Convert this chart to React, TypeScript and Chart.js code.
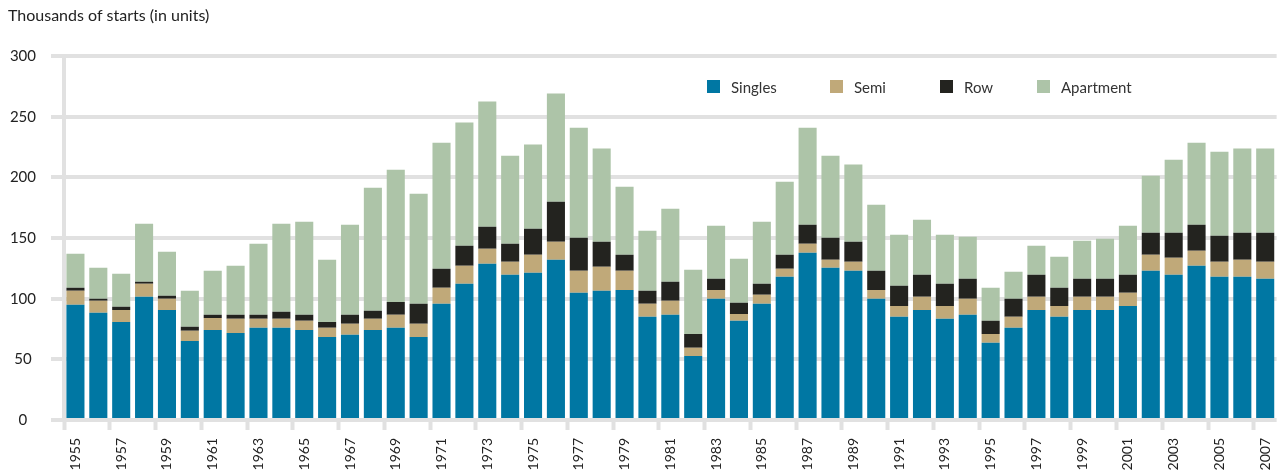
import React, { useEffect, useRef } from "react";
import { Chart, registerables } from "chart.js";

Chart.register(...registerables);

const years: string[] = [
  "1955","1956","1957","1958","1959","1960","1961","1962","1963","1964",
  "1965","1966","1967","1968","1969","1970","1971","1972","1973","1974",
  "1975","1976","1977","1978","1979","1980","1981","1982","1983","1984",
  "1985","1986","1987","1988","1989","1990","1991","1992","1993","1994",
  "1995","1996","1997","1998","1999","2000","2001","2002","2003","2004",
  "2005","2006","2007",
];

const singles: number[] = [
  95.0, 88.4, 80.9, 101.6, 90.8, 65.2, 74.3, 71.8, 76.0, 76.0,
  74.3, 68.5, 70.2, 74.3, 76.0, 68.5, 95.8, 112.3, 128.8, 119.7,
  121.4, 132.1, 104.9, 106.5, 107.3, 85.1, 86.7, 52.8, 99.9, 81.8,
  95.8, 118.1, 137.9, 125.5, 123.0, 99.9, 85.1, 90.8, 83.4, 86.7,
  63.6, 76.0, 90.8, 85.1, 90.8, 90.8, 94.1, 123.0, 119.7, 127.2,
  118.1, 118.1, 116.4,
];

const semi: number[] = [
  11.5, 9.9, 9.9, 10.7, 9.1, 8.3, 9.9, 11.6, 7.4, 7.4,
  7.5, 7.5, 9.1, 9.1, 10.7, 10.8, 13.2, 14.9, 12.4, 10.8,
  14.9, 14.9, 18.1, 19.8, 15.7, 10.7, 11.6, 6.7, 7.4, 5.7,
  7.4, 6.6, 7.4, 6.6, 7.5, 7.4, 9.0, 10.8, 10.7, 13.2,
  7.4, 9.1, 10.8, 9.0, 10.8, 10.8, 10.8, 13.3, 14.1, 12.4,
  12.4, 14.0, 14.1,
];

const row: number[] = [
  2.5, 1.6, 2.5, 1.7, 2.5, 3.3, 2.5, 3.3, 3.3, 5.8,
  4.9, 4.9, 7.4, 6.6, 10.7, 16.5, 15.7, 16.5, 18.2, 14.8,
  21.4, 33.0, 27.3, 20.7, 13.3, 10.7, 15.7, 11.5, 9.1, 9.1,
  9.1, 11.6, 15.7, 18.2, 16.5, 15.7, 16.6, 18.1, 18.2, 16.5,
  10.8, 14.8, 18.1, 14.9, 14.8, 14.8, 14.8, 18.1, 20.6, 21.4,
  21.4, 22.3, 23.9,
];

const apartment: number[] = [
  28.1, 25.6, 27.3, 47.9, 36.3, 29.7, 36.3, 40.5, 58.6, 72.7,
  76.8, 51.2, 74.3, 101.6, 109.0, 90.8, 104.0, 101.6, 103.2, 72.7,
  69.4, 89.2, 90.8, 76.8, 56.1, 49.6, 60.2, 52.9, 43.8, 36.3,
  51.2, 60.2, 80.1, 67.7, 63.6, 54.5, 42.1, 45.5, 40.5, 34.7,
  27.2, 22.3, 24.0, 25.6, 31.4, 33.1, 40.5, 47.1, 60.3, 67.7,
  69.4, 69.4, 69.4,
];

const seriesLabels: string[] = ["Singles", "Semi", "Row", "Apartment"];
const seriesColors: string[] = ["#0077A3", "#C0A979", "#23231F", "#ADC4A8"];
const yTicks: number[] = [0, 50, 100, 150, 200, 250, 300];

const FONT = "Lato, 'Open Sans', sans-serif";
const GRID = "#e1e1e1";

const insideLegend = {
  id: "insideLegend",
  afterDraw(chart: any) {
    const ctx = chart.ctx;
    const xs = [707, 830, 940, 1037];
    ctx.save();
    ctx.font = `15px ${FONT}`;
    ctx.textBaseline = "middle";
    ctx.textAlign = "left";
    chart.data.datasets.forEach((ds: any, i: number) => {
      ctx.fillStyle = ds.backgroundColor;
      ctx.fillRect(xs[i], 80, 13, 13);
      ctx.fillStyle = "#333333";
      ctx.fillText(ds.label, xs[i] + 24, 88);
    });
    ctx.restore();
  },
};

export default function App() {
  const canvasRef = useRef<HTMLCanvasElement | null>(null);

  useEffect(() => {
    document.body.style.margin = "0";
    document.body.style.overflow = "hidden";
    const canvas = canvasRef.current;
    if (!canvas) return;
    const data = [singles, semi, row, apartment];
    const chart = new Chart(canvas, {
      type: "bar",
      data: {
        labels: years,
        datasets: data.map((vals, i) => ({
          label: seriesLabels[i],
          data: vals,
          backgroundColor: seriesColors[i],
          borderWidth: 0,
          barPercentage: 0.79,
          categoryPercentage: 1,
        })),
      },
      options: {
        responsive: false,
        animation: false,
        devicePixelRatio: 1,
        layout: { padding: { left: 8, right: 0, top: 0, bottom: 0 } },
        plugins: {
          legend: { display: false },
          tooltip: { enabled: false },
          title: {
            display: true,
            text: "Thousands of starts (in units)",
            align: "start",
            color: "#222222",
            font: { family: FONT, size: 16, weight: "normal" },
            padding: { top: 6, bottom: 31 },
          },
        },
        scales: {
          x: {
            stacked: true,
            offset: true,
            border: { display: false },
            grid: {
              display: true,
              offset: true,
              drawOnChartArea: false,
              drawTicks: true,
              tickLength: 10,
              tickWidth: 4,
              tickColor: (c: any) => (c.index % 2 === 0 && c.index < years.length ? GRID : "rgba(0,0,0,0)"),
            },
            ticks: {
              autoSkip: false,
              maxRotation: 90,
              minRotation: 90,
              padding: 8,
              color: "#222222",
              font: { family: FONT, size: 14 },
              callback: (_v: any, i: number) => (i % 2 === 0 ? years[i] : ""),
            },
            afterFit: (s: any) => {
              s.height = 52;
            },
          },
          y: {
            stacked: true,
            min: 0,
            max: 300,
            afterBuildTicks: (s: any) => {
              s.ticks = yTicks.map((v) => ({ value: v }));
            },
            border: { display: true, width: 4, color: GRID },
            grid: {
              color: GRID,
              lineWidth: 4,
              drawTicks: true,
              tickLength: 13,
            },
            ticks: {
              padding: 15,
              crossAlign: "center",
              color: "#222222",
              font: { family: FONT, size: 15 },
            },
            afterFit: (s: any) => {
              s.width = 56;
            },
          },
        },
      },
      plugins: [insideLegend],
    } as any);
    return () => chart.destroy();
  }, []);

  return (
    <div style={{ position: "absolute", left: 0, top: 0, width: 1290, height: 472, overflow: "hidden" }}>
      <canvas ref={canvasRef} width={1290} height={472} style={{ width: 1290, height: 472, display: "block" }} />
    </div>
  );
}
